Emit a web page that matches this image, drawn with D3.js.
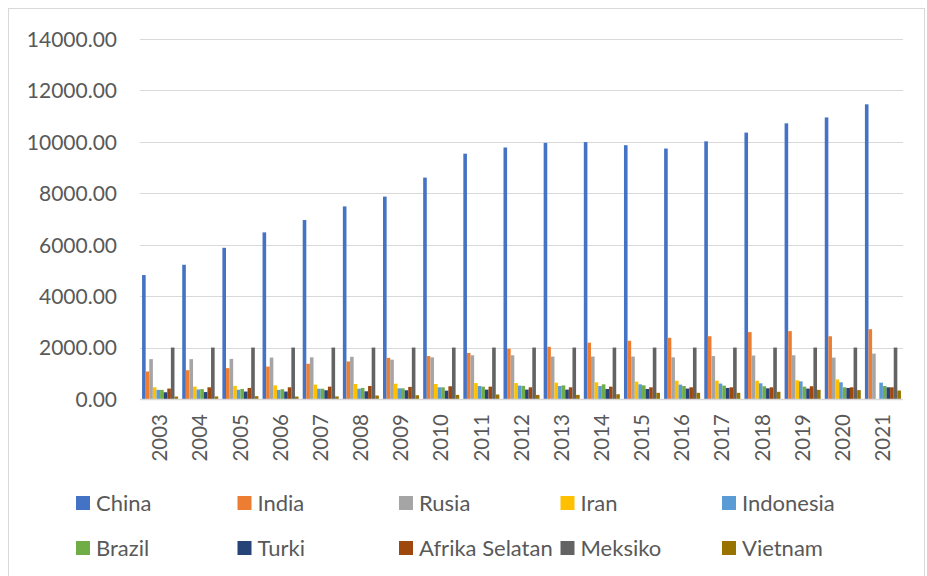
<!DOCTYPE html>
<html>
<head>
<meta charset="utf-8">
<script src="https://cdn.jsdelivr.net/npm/d3@7"></script>
<style>
  html, body { margin: 0; padding: 0; background: #fff; }
  svg { display: block; font-family: Lato, "Open Sans", sans-serif; }
</style>
</head>
<body>
<svg id="chart" width="927" height="576"></svg>
<script>
const years = ["2003","2004","2005","2006","2007","2008","2009","2010","2011","2012","2013","2014","2015","2016","2017","2018","2019","2020","2021"];
const seriesNames = ["China","India","Rusia","Iran","Indonesia","Brazil","Turki","Afrika Selatan","Meksiko","Vietnam"];
const seriesColors = ["#4472C4","#ED7D31","#A5A5A5","#FFC000","#5B9BD5","#70AD47","#264478","#9E480E","#636363","#997300"];

const china     = [4820,5220,5880,6480,6960,7490,7870,8610,9540,9780,9960,9990,9870,9740,10020,10360,10720,10950,11460];
const india     = [1070,1120,1200,1260,1370,1460,1600,1670,1790,1955,2030,2190,2265,2380,2440,2600,2640,2440,2715];
const rusia     = [1550,1550,1560,1610,1620,1640,1530,1620,1700,1700,1650,1650,1650,1620,1670,1690,1700,1610,1765];
const iran      = [455,480,510,530,560,585,595,585,620,620,635,650,675,710,710,710,725,760,null];
const indonesia = [355,370,360,355,400,400,415,455,505,520,505,505,570,560,600,610,685,650,635];
const brazil    = [355,385,390,380,400,430,415,455,480,510,530,570,530,505,520,495,480,455,505];
const turki     = [262,270,290,290,340,300,340,325,365,365,365,390,390,405,430,415,405,430,455];
const afrika    = [405,455,430,455,480,505,470,495,480,455,455,480,455,455,455,455,495,455,455];
const meksiko   = [2000,2000,2000,2000,2000,2000,2000,2000,2000,2000,2000,2000,2000,2000,2000,2000,2000,2000,2000];
const vietnam   = [95,100,110,95,100,135,145,160,175,160,160,185,240,240,240,280,355,345,330];

const yTicks = [0,2000,4000,6000,8000,10000,12000,14000];

const seriesValues = [china, india, rusia, iran, indonesia, brazil, turki, afrika, meksiko, vietnam];

const svg = d3.select("#chart");

// outer border
svg.append("rect")
  .attr("x", 8.5).attr("y", 8.5)
  .attr("width", 916).attr("height", 580)
  .attr("fill", "none").attr("stroke", "#d9d9d9").attr("stroke-width", 1);

const plotLeft = 140, plotRight = 903;
const y = d3.scaleLinear().domain([0, 14000]).range([399, 39]);
const x = d3.scaleBand().domain(years).range([plotLeft, plotRight]).padding(0);

const bw = x.bandwidth();
const barW = bw / (seriesNames.length + 1.15);
const inner = d3.scaleBand().domain(d3.range(seriesNames.length))
  .range([(bw - barW * seriesNames.length) / 2, (bw + barW * seriesNames.length) / 2])
  .padding(0);

// y tick labels
const yAxis = d3.axisLeft(y).tickValues(yTicks).tickFormat(d3.format(".2f")).tickSize(0).tickPadding(0);
const gy = svg.append("g").attr("transform", `translate(${plotLeft},0)`).call(yAxis);
gy.select(".domain").remove();
gy.selectAll(".tick line").remove();
gy.selectAll(".tick text")
  .attr("x", -23)
  .attr("dy", "0.35em")
  .attr("fill", "#595959")
  .style("font-size", "21px")
  .style("font-family", "Lato, 'Open Sans', sans-serif");

// gridlines
svg.append("g").selectAll("line").data(yTicks.filter(d => d > 0)).join("line")
  .attr("x1", plotLeft).attr("x2", plotRight)
  .attr("y1", d => Math.round(y(d)) + 0.5).attr("y2", d => Math.round(y(d)) + 0.5)
  .attr("stroke", "#d9d9d9").attr("stroke-width", 1);

// bars
const groups = svg.append("g").selectAll("g").data(years).join("g")
  .attr("transform", d => `translate(${x(d)},0)`);

groups.selectAll("rect")
  .data((yr, i) => seriesValues.map((vals, s) => ({ s, v: vals[i] })).filter(d => d.v != null))
  .join("rect")
  .attr("x", d => inner(d.s))
  .attr("width", inner.bandwidth())
  .attr("y", d => y(d.v))
  .attr("height", d => y(0) - y(d.v))
  .attr("fill", d => seriesColors[d.s]);

// baseline axis
svg.append("line")
  .attr("x1", plotLeft).attr("x2", plotRight)
  .attr("y1", y(0) + 0.5).attr("y2", y(0) + 0.5)
  .attr("stroke", "#d9d9d9").attr("stroke-width", 1.5);

// x labels
const xAxis = d3.axisBottom(x).tickSize(0).tickPadding(0);
const gx = svg.append("g").attr("transform", `translate(0,${y(0)})`).call(xAxis);
gx.select(".domain").remove();
gx.selectAll(".tick text")
  .attr("transform", "translate(0,15) rotate(-90)")
  .attr("x", 0).attr("y", 0)
  .attr("dy", "0.35em")
  .attr("text-anchor", "end")
  .attr("fill", "#595959")
  .style("font-size", "20.5px")
  .style("font-family", "Lato, 'Open Sans', sans-serif");

// legend
const legX = [76, 237.5, 399, 560.5, 722];
const legY = [496, 541];
const leg = svg.append("g").selectAll("g").data(seriesNames).join("g")
  .attr("transform", (d, i) => `translate(${legX[i % 5]},${legY[Math.floor(i / 5)]})`);
leg.append("rect").attr("width", 14).attr("height", 14).attr("fill", (d, i) => seriesColors[i]);
leg.append("text").attr("x", 20).attr("y", 14.5)
  .attr("fill", "#595959")
  .style("font-size", "22px")
  .text(d => d);
</script>
</body>
</html>
